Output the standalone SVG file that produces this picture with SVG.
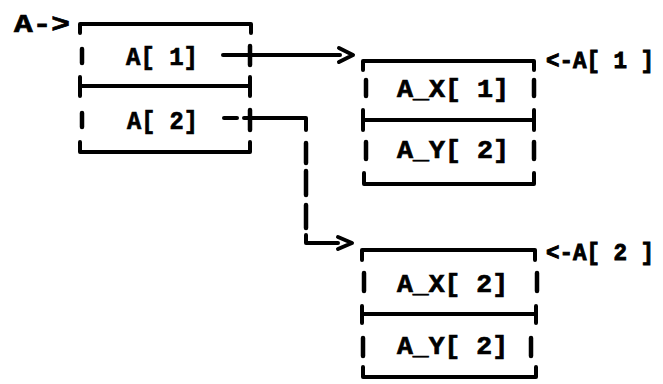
<svg xmlns="http://www.w3.org/2000/svg" width="663" height="384" viewBox="0 0 663 384">
<style>
  .ln { stroke: #000; stroke-width: 4; fill: none; stroke-linecap: round; stroke-linejoin: round; }
  .tk { stroke: #000; stroke-width: 4.5; fill: none; stroke-linecap: round; }
  .t { font-family: "Liberation Mono", "DejaVu Sans Mono", monospace; font-weight: bold; font-size: 25px; fill: #000; stroke: #000; stroke-width: 0.7; }
  .lbl { font-size: 23px; stroke-width: 0.9; }
</style>
<rect width="663" height="384" fill="#fff"/>

<g id="pointer-A">
  <text class="t" x="14" y="32" textLength="56" lengthAdjust="spacingAndGlyphs">A-&gt;</text>
</g>

<g id="node-A">
  <path class="ln" d="M80,33 V24 H251 V33"/>
  <line class="tk" x1="82" y1="49" x2="82" y2="63"/>
  <text class="t" x="126" y="65" textLength="72" lengthAdjust="spacingAndGlyphs">A[ 1]</text>
  <line class="tk" x1="250" y1="46" x2="250" y2="65"/>
  <path class="ln" d="M80,77 V96 M80,86 H250 M250,77 V96"/>
  <line class="tk" x1="82" y1="113" x2="82" y2="127"/>
  <text class="t" x="127" y="129" textLength="71" lengthAdjust="spacingAndGlyphs">A[ 2]</text>
  <line class="tk" x1="250" y1="110" x2="250" y2="130"/>
  <path class="ln" d="M80,142 V152 H250 V142"/>
</g>

<g id="node-AX1">
  <path class="ln" d="M363,70 V61 H534 V70"/>
  <line class="tk" x1="366" y1="80" x2="366" y2="96"/>
  <text class="t" x="397" y="97" textLength="112" lengthAdjust="spacingAndGlyphs">A_X[ 1]</text>
  <line class="tk" x1="534" y1="80" x2="534" y2="96"/>
  <path class="ln" d="M363,110 V130 M363,120 H534 M534,110 V130"/>
  <line class="tk" x1="366" y1="142" x2="366" y2="159"/>
  <text class="t" x="397" y="158" textLength="112" lengthAdjust="spacingAndGlyphs">A_Y[ 2]</text>
  <line class="tk" x1="534" y1="142" x2="534" y2="159"/>
  <path class="ln" d="M364,173 V184 H534 V173"/>
</g>

<g id="label-A1">
  <text class="t lbl" x="546" y="68" textLength="108" lengthAdjust="spacingAndGlyphs">&lt;-A[ 1 ]</text>
</g>

<g id="node-AX2">
  <path class="ln" d="M362,260 V250 H535 V260"/>
  <line class="tk" x1="364" y1="273" x2="364" y2="291"/>
  <text class="t" x="397" y="292" textLength="111" lengthAdjust="spacingAndGlyphs">A_X[ 2]</text>
  <line class="tk" x1="537" y1="273" x2="537" y2="291"/>
  <path class="ln" d="M362,306 V323 M362,314 H536 M536,306 V323"/>
  <line class="tk" x1="363" y1="338" x2="363" y2="356"/>
  <text class="t" x="397" y="354" textLength="111" lengthAdjust="spacingAndGlyphs">A_Y[ 2]</text>
  <line class="tk" x1="531" y1="338" x2="531" y2="356"/>
  <path class="ln" d="M363,367 V377 H536 V367"/>
</g>

<g id="label-A2">
  <text class="t lbl" x="546" y="260" textLength="108" lengthAdjust="spacingAndGlyphs">&lt;-A[ 2 ]</text>
</g>

<g id="connectors">
  <line class="ln" x1="223" y1="55" x2="340" y2="55"/>
  <polyline class="ln" points="339,48 353,55 339,62"/>
  <line class="ln" x1="224" y1="118" x2="237" y2="118"/>
  <path class="ln" d="M244,118 H306 V130"/>
  <line class="tk" x1="306" y1="143" x2="306" y2="163"/>
  <line class="tk" x1="306" y1="171" x2="306" y2="195"/>
  <line class="tk" x1="306" y1="205" x2="306" y2="228"/>
  <path class="ln" d="M306,235 V243 H338"/>
  <polyline class="ln" points="338,237 352,243 338,249"/>
</g>
</svg>
